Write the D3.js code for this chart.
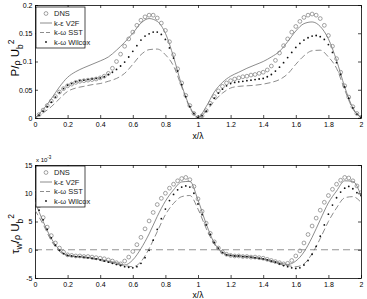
<!DOCTYPE html>
<html><head><meta charset="utf-8">
<script src="https://cdn.jsdelivr.net/npm/d3@7"></script>
<style>
html,body{margin:0;padding:0;background:#fff;}
svg{display:block;font-family:"Liberation Sans",Arial,sans-serif;}
</style></head>
<body><svg id="c" width="367" height="299"></svg>
<script>
// ---------- DATA ----------
const xFine = d3.range(0, 81).map(i => i * 0.025);   // marker series grid (0..2)
const xCoarse = d3.range(0, 41).map(i => i * 0.05);  // line series grid (0..2)

const seriesNames = ["DNS", "k-ε V2F", "k-ω SST", "k-ω Wilcox"];

// Top panel: P / rho U_b^2
const topDNS = [
 .000,.006,.014,.022,.030,.038,.046,.052,.057,.060,.063,.065,.066,.067,.068,.069,.071,.074,.079,.088,
 .100,.113,.127,.140,.152,.164,.173,.179,.182,.182,.177,.168,.155,.135,.112,.087,.062,.040,.022,.008,
 .001,.004,.013,.026,.038,.048,.056,.062,.066,.069,.071,.073,.074,.076,.077,.079,.081,.085,.092,.102,
 .115,.128,.140,.152,.162,.171,.178,.182,.184,.182,.176,.164,.146,.127,.105,.081,.057,.037,.020,.008,.001];
const topWilcox = [
 .000,.005,.012,.020,.028,.037,.045,.052,.058,.061,.064,.066,.067,.068,.069,.070,.071,.073,.077,.081,
 .086,.092,.099,.108,.118,.128,.138,.145,.149,.152,.152,.148,.139,.124,.106,.083,.059,.038,.020,.008,
 .001,.004,.012,.024,.035,.044,.051,.057,.061,.063,.064,.065,.066,.067,.068,.069,.070,.073,.077,.083,
 .090,.098,.107,.116,.125,.132,.138,.142,.145,.146,.144,.139,.130,.116,.098,.077,.055,.035,.018,.007,.001];
const topV2F = [
 0,.015,.034,.055,.072,.082,.089,.095,.101,.108,.120,.134,.150,.168,.176,.171,.150,.108,.058,.020,.001,
 .020,.046,.063,.074,.081,.088,.094,.100,.108,.118,.135,.154,.167,.170,.162,.140,.102,.055,.018,.001];
const topSST = [
 0,.009,.020,.034,.047,.053,.056,.059,.061,.065,.070,.079,.095,.112,.121,.122,.112,.092,.055,.018,.001,
 .012,.030,.044,.053,.056,.057,.058,.060,.063,.068,.078,.095,.110,.119,.120,.108,.088,.050,.016,.001];

// Bottom panel: tau_w / rho U_b^2  (x 10^-3)
const botDNS = [
 10.2,7.8,5.7,4.0,2.5,1.2,0.3,-0.4,-0.9,-1.0,-1.1,-1.1,-1.2,-1.2,-1.3,-1.4,-1.5,-1.6,-1.8,-2.0,
 -2.3,-2.5,-2.0,-1.3,-0.3,0.9,2.2,3.7,5.1,6.6,8.0,9.1,10.0,10.9,11.6,12.2,12.6,12.8,12.4,11.2,
 9.0,6.8,4.7,2.9,1.4,0.3,-0.4,-0.8,-1.0,-1.1,-1.1,-1.2,-1.2,-1.3,-1.3,-1.4,-1.5,-1.7,-1.9,-2.1,
 -2.3,-2.5,-2.4,-1.9,-1.1,-0.2,1.2,2.7,4.2,5.6,7.0,8.4,9.6,10.7,11.6,12.3,12.8,12.7,12.2,11.3,10.1];
const botWilcox = [
 9.0,7.0,5.3,3.6,2.1,0.8,-0.1,-0.7,-1.0,-1.1,-1.2,-1.2,-1.3,-1.4,-1.5,-1.6,-1.8,-2.0,-2.2,-2.4,
 -2.6,-2.8,-3.0,-3.1,-3.2,-3.0,-2.4,-1.4,-0.1,1.7,3.6,5.5,7.2,8.7,9.8,10.6,11.1,11.3,11.1,10.0,
 8.1,6.2,4.4,2.7,1.3,0.3,-0.5,-0.9,-1.0,-1.1,-1.1,-1.2,-1.2,-1.3,-1.4,-1.5,-1.6,-1.8,-2.0,-2.2,
 -2.5,-2.8,-3.0,-3.2,-3.3,-3.2,-2.7,-1.9,-0.8,0.6,2.4,4.4,6.3,7.9,9.2,10.2,10.9,11.2,10.8,10.1,9.6];
const botV2F = [
 8.5,5.0,2.0,0.0,-1.0,-1.2,-1.3,-1.5,-1.7,-2.0,-2.3,-2.7,-1.8,0.2,2.8,5.9,8.6,10.6,12.0,12.1,8.8,
 4.6,1.2,-0.4,-1.0,-1.1,-1.2,-1.4,-1.6,-1.9,-2.3,-2.6,-2.0,-0.4,2.2,5.3,8.3,10.4,12.2,12.1,9.6];
const botSST = [
 7.0,4.5,1.6,-0.3,-1.0,-1.2,-1.4,-1.6,-1.9,-2.2,-2.5,-2.8,-3.0,-2.1,0.2,3.2,6.2,8.2,9.4,9.6,7.2,
 3.8,1.0,-0.6,-1.1,-1.2,-1.3,-1.5,-1.7,-2.1,-2.5,-2.8,-3.0,-2.5,-0.7,2.0,5.0,7.4,9.2,9.4,8.4];

const xTicks = [0,0.2,0.4,0.6,0.8,1,1.2,1.4,1.6,1.8,2];
const xTickLabels = ["0","0.2","0.4","0.6","0.8","1","1.2","1.4","1.6","1.8","2"];
const topYTicks = [0,0.05,0.1,0.15,0.2];
const topYTickLabels = ["0","0.05","0.1","0.15","0.2"];
const botYTicks = [-5,0,5,10,15];
const botYTickLabels = ["-5","0","5","10","15"];

// ---------- DRAW ----------
const svg = d3.select("#c");
const x = d3.scaleLinear().domain([0,2]).range([35,361]);
const GRAY = "#6e6e6e";

function panel(y, yTicks, yLabels, dns, v2f, sst, wil, yTitleFn, titleY, legendTop, xTitleY) {
  const [y0, y1] = y.range(); // bottom, top
  const g = svg.append("g");
  const fmtX = (d) => xTickLabels[xTicks.indexOf(d)];
  g.append("g").attr("transform", `translate(0,${y0})`)
    .call(d3.axisBottom(x).tickValues(xTicks).tickFormat(fmtX).tickSizeInner(-3).tickSizeOuter(0).tickPadding(4));
  g.append("g").attr("transform", `translate(0,${y1})`)
    .call(d3.axisTop(x).tickValues(xTicks).tickFormat("").tickSizeInner(-3).tickSizeOuter(0));
  const fmtY = (d) => yLabels[yTicks.indexOf(d)];
  g.append("g").attr("transform", `translate(${x(0)},0)`)
    .call(d3.axisLeft(y).tickValues(yTicks).tickFormat(fmtY).tickSizeInner(-3).tickSizeOuter(0).tickPadding(2.5));
  g.append("g").attr("transform", `translate(${x(2)},0)`)
    .call(d3.axisRight(y).tickValues(yTicks).tickFormat("").tickSizeInner(-3).tickSizeOuter(0));
  g.selectAll(".domain").attr("stroke", "#000").attr("stroke-width", 0.8);
  g.selectAll(".tick line").attr("stroke", "#000").attr("stroke-width", 0.7);
  g.selectAll(".tick text").attr("font-size", 7).attr("fill", "#000")
    .attr("font-family", '"Liberation Sans",Arial,sans-serif');

  const clip = "clip" + Math.round(y0);
  svg.append("clipPath").attr("id", clip).append("rect")
    .attr("x", x(0)).attr("y", y1).attr("width", x(2) - x(0)).attr("height", y0 - y1);
  const pg = svg.append("g").attr("clip-path", `url(#${clip})`);

  const line = d3.line().x(d => x(d[0])).y(d => y(d[1])).curve(d3.curveMonotoneX);
  pg.append("path").datum(xCoarse.map((xv, i) => [xv, v2f[i]]))
    .attr("d", line).attr("fill", "none").attr("stroke", GRAY).attr("stroke-width", 0.8);
  pg.append("path").datum(xCoarse.map((xv, i) => [xv, sst[i]]))
    .attr("d", line).attr("fill", "none").attr("stroke", GRAY).attr("stroke-width", 0.8)
    .attr("stroke-dasharray", "6,3");
  pg.selectAll("circle.dns").data(xFine.map((xv, i) => [xv, dns[i]])).join("circle")
    .attr("class", "dns").attr("cx", d => x(d[0])).attr("cy", d => y(d[1])).attr("r", 1.9)
    .attr("fill", "none").attr("stroke", "#7a7a7a").attr("stroke-width", 0.7);
  pg.selectAll("circle.wil").data(xFine.map((xv, i) => [xv, wil[i]])).join("circle")
    .attr("class", "wil").attr("cx", d => x(d[0])).attr("cy", d => y(d[1])).attr("r", 0.9)
    .attr("fill", "#111");

  // legend
  const L = svg.append("g").attr("transform", `translate(36,${legendTop})`);
  L.append("rect").attr("x", 0).attr("y", 0).attr("width", 49).attr("height", 41)
    .attr("fill", "#fff").attr("stroke", "#000").attr("stroke-width", 0.7);
  const rows = [6.5, 16, 25.5, 35];
  L.append("circle").attr("cx", 10).attr("cy", rows[0]).attr("r", 1.9)
    .attr("fill", "none").attr("stroke", "#7a7a7a").attr("stroke-width", 0.7);
  L.append("line").attr("x1", 4).attr("x2", 16).attr("y1", rows[1]).attr("y2", rows[1])
    .attr("stroke", GRAY).attr("stroke-width", 0.8);
  L.append("line").attr("x1", 4).attr("x2", 16).attr("y1", rows[2]).attr("y2", rows[2])
    .attr("stroke", GRAY).attr("stroke-width", 0.8).attr("stroke-dasharray", "4,2");
  L.append("circle").attr("cx", 10).attr("cy", rows[3]).attr("r", 0.9).attr("fill", "#111");
  seriesNames.forEach((n, i) => {
    L.append("text").attr("x", 18).attr("y", rows[i]).attr("dy", "0.35em")
      .attr("font-size", 7.5).attr("fill", "#222").text(n);
  });

  yTitleFn(titleY);
  svg.append("text").attr("x", 198).attr("y", xTitleY).attr("text-anchor", "middle")
    .attr("font-size", 8.5).attr("fill", "#000").text("x/λ");
}

const yTop = d3.scaleLinear().domain([0,0.2]).range([118,5]);
const yBot = d3.scaleLinear().domain([-5,15]).range([278,165]);

function topTitle(cy) {
  const t = svg.append("text").attr("transform", `translate(19,${cy}) rotate(-90)`)
    .attr("text-anchor", "middle").attr("font-size", 11.5).attr("fill", "#000");
  t.append("tspan").text("P/");
  t.append("tspan").attr("font-size", 9).attr("dy", 1).text("ρ");
  t.append("tspan").attr("dy", -1).text(" U");
  t.append("tspan").attr("font-size", 8.5).attr("dy", 3.5).text("b");
  t.append("tspan").attr("font-size", 8.5).attr("dy", -9).text("2");
}
function botTitle(cy) {
  const t = svg.append("text").attr("transform", `translate(19,${cy}) rotate(-90)`)
    .attr("text-anchor", "middle").attr("font-size", 11.5).attr("fill", "#000");
  t.append("tspan").text("τ");
  t.append("tspan").attr("font-size", 8.5).attr("dy", 3).text("w");
  t.append("tspan").attr("dy", -3).text("/");
  t.append("tspan").attr("font-size", 9).attr("dy", 1).text("ρ");
  t.append("tspan").attr("dy", -1).text(" U");
  t.append("tspan").attr("font-size", 8.5).attr("dy", 3.5).text("b");
  t.append("tspan").attr("font-size", 8.5).attr("dy", -9).text("2");
}

svg.append("line").attr("x1", x(0)).attr("x2", x(2)).attr("y1", yBot(0)).attr("y2", yBot(0))
  .attr("stroke", "#777").attr("stroke-width", 0.8).attr("stroke-dasharray", "7,4");

panel(yTop, topYTicks, topYTickLabels, topDNS, topV2F, topSST, topWilcox, topTitle, 58, 7, 139);
panel(yBot, botYTicks, botYTickLabels, botDNS, botV2F, botSST, botWilcox, botTitle, 234, 166, 298);

const ex = svg.append("text").attr("x", 36).attr("y", 162).attr("font-size", 6).attr("fill", "#000");
ex.append("tspan").text("x 10");
ex.append("tspan").attr("font-size", 4.5).attr("dy", -3).text("-3");
</script></body></html>
